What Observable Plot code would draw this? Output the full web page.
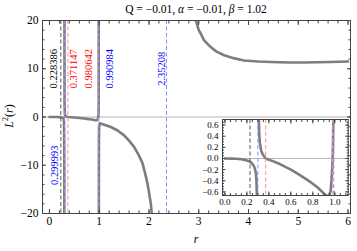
<!DOCTYPE html>
<html><head><meta charset="utf-8">
<script src="https://cdn.jsdelivr.net/npm/d3@7"></script>
<script src="https://cdn.jsdelivr.net/npm/@observablehq/plot@0.6"></script>
<style>
html,body{margin:0;padding:0;background:#fff;}
#wrap{position:relative;width:357px;height:251px;overflow:hidden;font-family:"Liberation Serif",serif;color:#000;}
#wrap svg, #wrap svg text{font-family:"Liberation Serif",serif !important;}
#main{position:absolute;left:0;top:0;}
#inset{position:absolute;left:198px;top:112px;}
#title{position:absolute;top:2px;left:42px;width:308px;text-align:center;font-size:11.5px;line-height:14px;white-space:nowrap;}
#ylab{position:absolute;left:-14px;top:108px;width:40px;height:16px;text-align:center;transform:rotate(-90deg);font-size:12px;line-height:16px;white-space:nowrap;}
#xlab{position:absolute;left:186px;top:232px;width:20px;text-align:center;font-size:12px;line-height:14px;font-style:italic;}
</style></head>
<body>
<div id="wrap">
  <div id="main"></div>
  <div id="inset"></div>
  <div id="title">Q = −0.01, <i>α</i> = −0.01, <i>β</i> = 1.02</div>
  <div id="ylab"><i>L</i><sup style="font-size:8px">2</sup>(<i>r</i>)</div>
  <div id="xlab">r</div>
</div>
<script>
// ---- data ----
// branch A: 0 < r < 0.3 (goes to -inf)
const branchA_r  = [0, 0.05, 0.1, 0.15, 0.19, 0.22, 0.237, 0.255, 0.267, 0.276, 0.282, 0.287, 0.291, 0.295, 0.2985, 0.2995];
const branchA_L2 = [0, -0.002, -0.006, -0.015, -0.03, -0.05, -0.07, -0.11, -0.15, -0.21, -0.27, -0.4, -0.67, -3, -10, -30];
// branch B: 0.3 < r < 0.991 (from +inf to +inf)
const branchB_r  = [0.3005, 0.303, 0.308, 0.312, 0.318, 0.33, 0.345, 0.371147, 0.43, 0.5, 0.55, 0.6, 0.65, 0.7, 0.75, 0.8, 0.85, 0.88, 0.91, 0.935, 0.95, 0.962, 0.97, 0.976, 0.980642, 0.984, 0.987, 0.989, 0.9905];
const branchB_L2 = [30, 3, 0.8, 0.45, 0.28, 0.14, 0.07, 0, -0.043, -0.1, -0.15, -0.2, -0.26, -0.32, -0.385, -0.455, -0.53, -0.59, -0.645, -0.68, -0.66, -0.58, -0.4, -0.2, 0, 0.3, 0.8, 3, 30];
// branch C: r > 0.991 (from -inf down to -inf)
const branchC_r  = [0.9915, 0.994, 0.998, 1.012, 1.1, 1.233, 1.37, 1.5, 1.6, 1.7, 1.8, 1.87, 1.93, 1.97, 2.0, 2.036, 2.056, 2.07];
const branchC_L2 = [-30, -5, -2, -1.3, -1.6, -2.07, -2.8, -3.8, -4.9, -6.2, -8, -9.6, -12, -13.8, -15.6, -17.9, -20, -22];
// branch D: r > 2.9
const branchD_r  = [2.88, 2.9, 2.93, 3.0, 3.04, 3.1, 3.24, 3.35, 3.51, 3.7, 3.91, 4.2, 4.45, 4.8, 5.11, 5.4, 5.65, 6.0];
const branchD_L2 = [24, 21.5, 20.5, 18, 17.3, 16, 14.5, 13.6, 12.8, 12.2, 11.7, 11.5, 11.4, 11.3, 11.3, 11.35, 11.4, 11.5];

// special radii
const markR     = [0.228386, 0.299993, 0.371147, 0.980642, 0.990984, 2.35208];
const markKind  = ["horizon", "pole", "root", "root", "pole", "pole"];
const markLabel = ["0.228386", "0.299993", "0.371147", "0.980642", "0.990984", "2.35208"];

// tick values
const mainXTicks = [0, 1, 2, 3, 4, 5, 6];
const mainYTicks = [-20, -10, 0, 10, 20];
const insetXTicks = [0, 0.2, 0.4, 0.6, 0.8, 1.0];
const insetYTicks = [-0.6, -0.4, -0.2, 0, 0.2, 0.4, 0.6];
const titleText = "Q = −0.01, α = −0.01, β = 1.02";

// ---- build ----
const curve = [];
[[branchA_r, branchA_L2, "A"], [branchB_r, branchB_L2, "B"], [branchC_r, branchC_L2, "C"], [branchD_r, branchD_L2, "D"]]
  .forEach(([R, V, b]) => R.forEach((r, i) => curve.push({r, L2: V[i], branch: b})));
const marks = markR.map((r, i) => ({r, kind: markKind[i], label: markLabel[i]}));

const dashColor = {horizon: "#555555", pole: "#8c8cff", root: "#ff9090"};
const textColor = {horizon: "#000000", pole: "#0000ff", root: "#ff0000"};
// label placement (screen offset, label height in data units)
const labelDx = [-7.5, -10, 5.5, -9.5, 11, -5];
const labelY  = [10, -10, 10, 10, 10, 10];

const frameColor = "#444";
const curveColor = "#7d7d7d";
const serif = "'Liberation Serif', serif";

function ticksEvery(a, b, step) {
  const out = [];
  for (let v = a; v <= b + 1e-9; v += step) out.push(+v.toFixed(4));
  return out;
}

const mainMinorX = ticksEvery(0, 6, 0.2);
const mainMinorY = ticksEvery(-20, 20, 2);

const mainPlot = Plot.plot({
  width: 357, height: 251,
  marginTop: 20, marginBottom: 38, marginLeft: 42, marginRight: 7,
  x: {domain: [-0.14, 6.05]},
  y: {domain: [-20, 20]},
  style: {fontFamily: serif, fontSize: "11.5px", color: "#000", background: "transparent", overflow: "visible"},
  marks: [
    Plot.ruleY([0], {stroke: "#b4b4b4", strokeWidth: 1}),
    Plot.line(curve, {x: "r", y: "L2", z: "branch", stroke: curveColor, strokeWidth: 2.6, clip: true}),
    Plot.ruleX(marks, {x: "r", stroke: d => dashColor[d.kind], strokeDasharray: "4,2.5", strokeWidth: 1}),
    ...marks.map((m, i) => Plot.text([m], {
      x: "r", y: () => labelY[i], text: "label", rotate: -90, dx: labelDx[i],
      fill: textColor[m.kind], fontSize: 10.5, fontFamily: serif
    })),
    Plot.frame({stroke: frameColor}),
    Plot.axisX(mainXTicks, {tickSize: 0, tickPadding: 3, label: null, fontFamily: serif}),
    Plot.axisY(mainYTicks, {tickSize: 0, tickPadding: 4, label: null, fontFamily: serif}),
    Plot.axisX(mainXTicks, {anchor: "bottom", tickSize: -4, fill: "none", label: null, stroke: frameColor}),
    Plot.axisX(mainXTicks, {anchor: "top", tickSize: -4, fill: "none", label: null, stroke: frameColor}),
    Plot.axisX(mainMinorX, {anchor: "bottom", tickSize: -2.5, fill: "none", label: null, stroke: frameColor}),
    Plot.axisX(mainMinorX, {anchor: "top", tickSize: -2.5, fill: "none", label: null, stroke: frameColor}),
    Plot.axisY(mainYTicks, {anchor: "left", tickSize: -4, fill: "none", label: null, stroke: frameColor}),
    Plot.axisY(mainYTicks, {anchor: "right", tickSize: -4, fill: "none", label: null, stroke: frameColor}),
    Plot.axisY(mainMinorY, {anchor: "left", tickSize: -2.5, fill: "none", label: null, stroke: frameColor}),
    Plot.axisY(mainMinorY, {anchor: "right", tickSize: -2.5, fill: "none", label: null, stroke: frameColor})
  ]
});
document.getElementById("main").appendChild(mainPlot);

const insetMinorX = ticksEvery(0, 1.1, 0.05);
const insetMinorY = ticksEvery(-0.65, 0.7, 0.05);
const insetXDomain = [-0.022, 1.122];
const insetMarks = marks.filter(m => m.r >= insetXDomain[0] && m.r <= insetXDomain[1]);
const insetCurve = curve.filter(d => d.r <= 1.2);
const fmt = d3.format(".1f");

const insetPlot = Plot.plot({
  width: 151, height: 100,
  marginTop: 7, marginBottom: 17, marginLeft: 24, marginRight: 1.3,
  x: {domain: insetXDomain},
  y: {domain: [-0.665, 0.7]},
  style: {fontFamily: serif, fontSize: "9px", color: "#000", background: "transparent", overflow: "visible"},
  marks: [
    Plot.frame({fill: "white", stroke: null}),
    Plot.ruleY([0], {stroke: "#b4b4b4", strokeWidth: 1}),
    Plot.line(insetCurve, {x: "r", y: "L2", z: "branch", stroke: curveColor, strokeWidth: 2.6, clip: true}),
    Plot.ruleX(insetMarks, {x: "r", stroke: d => dashColor[d.kind], strokeDasharray: "4,2.5", strokeWidth: 1}),
    Plot.frame({stroke: frameColor}),
    Plot.axisX(insetXTicks, {tickSize: 0, tickPadding: 3, label: null, tickFormat: fmt, fontFamily: serif}),
    Plot.axisY(insetYTicks, {tickSize: 0, tickPadding: 4, label: null, tickFormat: fmt, fontFamily: serif}),
    Plot.axisX(insetXTicks, {anchor: "bottom", tickSize: -3.5, fill: "none", label: null, stroke: frameColor}),
    Plot.axisX(insetXTicks, {anchor: "top", tickSize: -3.5, fill: "none", label: null, stroke: frameColor}),
    Plot.axisX(insetMinorX, {anchor: "bottom", tickSize: -2, fill: "none", label: null, stroke: frameColor}),
    Plot.axisX(insetMinorX, {anchor: "top", tickSize: -2, fill: "none", label: null, stroke: frameColor}),
    Plot.axisY(insetYTicks, {anchor: "left", tickSize: -3.5, fill: "none", label: null, stroke: frameColor}),
    Plot.axisY(insetYTicks, {anchor: "right", tickSize: -3.5, fill: "none", label: null, stroke: frameColor}),
    Plot.axisY(insetMinorY, {anchor: "left", tickSize: -2, fill: "none", label: null, stroke: frameColor}),
    Plot.axisY(insetMinorY, {anchor: "right", tickSize: -2, fill: "none", label: null, stroke: frameColor})
  ]
});
document.getElementById("inset").appendChild(insetPlot);
</script>
</body></html>
